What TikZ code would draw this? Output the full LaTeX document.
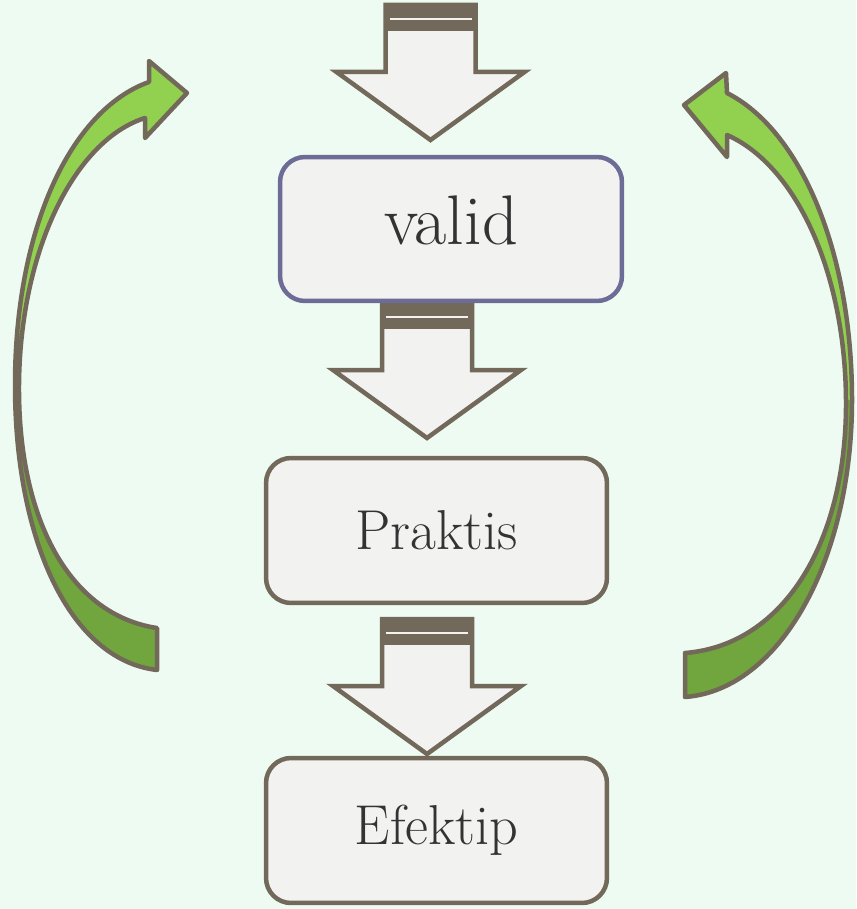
\documentclass[tikz,border=0pt]{standalone}
\usepackage{fontspec}
\usepackage{tikz}
\usetikzlibrary{calc}

\definecolor{fond}{HTML}{EEFBF2}
\definecolor{trait}{HTML}{72695A}
\definecolor{bleugris}{HTML}{6D6C97}
\definecolor{vertclair}{HTML}{92D050}
\definecolor{vertfonce}{HTML}{71A53D}
\definecolor{boite}{HTML}{F2F2F1}
\definecolor{texte}{HTML}{333333}

% fleche bloc vers le bas, #1 = milieu du haut
\newcommand{\flechebloc}[1]{%
  \draw[trait, line width=0.09cm, fill=boite, line join=miter]
    ($(#1)+(-45,0)$) -- ($(#1)+(45,0)$) -- ($(#1)+(45,67)$) -- ($(#1)+(94,67)$)
    -- ($(#1)+(0,135)$) -- ($(#1)+(-94,67)$) -- ($(#1)+(-45,67)$) -- cycle;
  \fill[trait] ($(#1)+(-47,0)$) rectangle ($(#1)+(47,26)$);
  \draw[boite, line width=0.04cm] ($(#1)+(-41,14)$) -- ($(#1)+(41,14)$);
}

\def\courbegauche{(157,670) .. controls (70,660) and (15,540) .. (15,385)
  .. controls (15,230) and (70,110) .. (149,82) -- (149,61) -- (187,93)
  -- (145,138) -- (145,118) .. controls (75,140) and (20,250) .. (19,385)
  .. controls (18,520) and (70,615) .. (157,628) -- cycle}

\def\courbedroite{(685,697) .. controls (780,690) and (852,560) .. (852,400)
  .. controls (852,250) and (800,130) .. (727,93) -- (726,73) -- (684,105)
  -- (727,157) -- (727,135) .. controls (795,165) and (845,270) .. (846,400)
  .. controls (847,540) and (785,645) .. (685,653) -- cycle}

\begin{document}
\begin{tikzpicture}[x=0.02cm, y=-0.02cm,
    etape/.style={draw=trait, fill=boite, line width=0.09cm, rounded corners=0.5cm,
      minimum width=6.82cm, minimum height=2.9cm, inner sep=0pt,
      text=texte, font=\fontsize{32}{38}\selectfont},
    courbe/.style={draw=trait, line width=0.09cm, line join=round}]

  % FOND
  \fill[fond] (0,0) rectangle (856,909);

  % POINTS
  \coordinate (F1) at (430.5,5);
  \coordinate (F2) at (427,303);
  \coordinate (F3) at (427,619);

  % FLECHES BLOC
  \flechebloc{F1}
  \flechebloc{F2}
  \flechebloc{F3}

  % BOITES
  \node[etape, draw=bleugris, minimum width=6.84cm, minimum height=2.88cm,
    text depth=0.36cm, font=\fontsize{40}{46}\selectfont]
    (valid) at (451,229) {valid};
  \node[etape] (praktis) at (436.5,530.5) {Praktis};
  \node[etape] (efektip) at (436.5,830.5) {Efektip};

  % FLECHE COURBE GAUCHE
  \fill[vertclair] \courbegauche;
  \begin{scope}
    \clip \courbegauche;
    \fill[vertfonce] (0,400) rectangle (856,909);
  \end{scope}
  \path[courbe] \courbegauche;

  % FLECHE COURBE DROITE
  \fill[vertclair] \courbedroite;
  \begin{scope}
    \clip \courbedroite;
    \fill[vertfonce] (0,400) rectangle (856,909);
  \end{scope}
  \path[courbe] \courbedroite;
\end{tikzpicture}
\end{document}
